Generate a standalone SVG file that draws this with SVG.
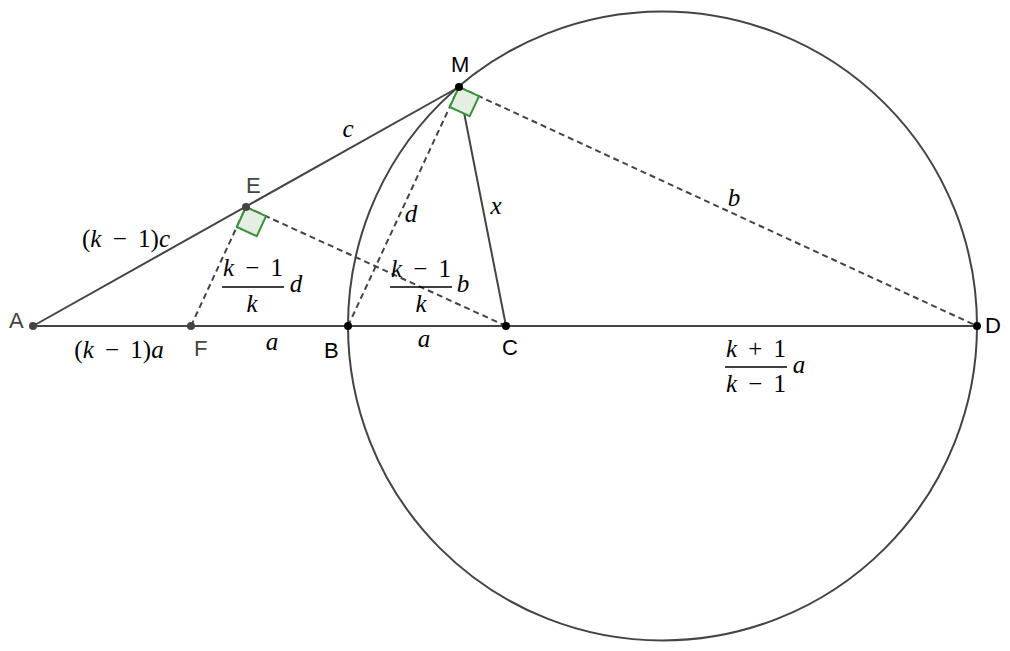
<svg xmlns="http://www.w3.org/2000/svg" width="1010" height="651" viewBox="0 0 1010 651">
<style>
.ln{stroke:#444;stroke-width:2;fill:none;stroke-linecap:round}
.ds{stroke:#444;stroke-width:2;fill:none;stroke-dasharray:6,4}
.ra{stroke:#3a913a;stroke-width:2;fill:#e4efe4;stroke-linejoin:miter}
.pt{fill:#000}
.pg{fill:#444}
.pl{font-family:"Liberation Sans",Arial,sans-serif;font-size:22px;fill:#000}
.plg{font-family:"Liberation Sans",Arial,sans-serif;font-size:22px;fill:#444}
.m{font-family:"Liberation Serif","Times New Roman","DejaVu Serif",serif;font-size:25px;fill:#000;word-spacing:5px}
.i{font-style:italic}
.fr{stroke:#000;stroke-width:1.3}
</style>
<rect width="1010" height="651" fill="#fff"/>
<g id="connectors">
<circle class="ln" cx="662.5" cy="326" r="314.5"/>
<line class="ln" x1="33" y1="326" x2="977" y2="326"/>
<line class="ln" x1="33" y1="326" x2="459" y2="87"/>
<line class="ln" x1="459" y1="87" x2="506" y2="326"/>
<line class="ds" x1="191" y1="326" x2="246" y2="207"/>
<line class="ds" x1="246" y1="207" x2="506" y2="326"/>
<line class="ds" x1="348" y1="326" x2="459" y2="87"/>
<line class="ds" x1="459" y1="87" x2="977" y2="326"/>
</g>
<g id="right-angle-E"><polygon class="ra" points="246,207 236.8,227 256.8,236.2 266,216.2"/></g>
<g id="right-angle-M"><polygon class="ra" points="459,87 449.7,107 469.7,116.2 479,96.2"/></g>
<g id="A"><circle class="pg" cx="33" cy="326" r="4"/><text class="plg" x="9" y="328">A</text></g>
<g id="F"><circle class="pg" cx="191" cy="326" r="4"/><text class="plg" x="194" y="356">F</text></g>
<g id="E"><circle class="pg" cx="246" cy="207" r="4"/><text class="plg" x="246" y="193">E</text></g>
<g id="B"><circle class="pt" cx="348" cy="326" r="4"/><text class="pl" x="324" y="358">B</text></g>
<g id="C"><circle class="pt" cx="506" cy="326" r="4"/><text class="pl" x="502" y="355">C</text></g>
<g id="D"><circle class="pt" cx="977" cy="326" r="4"/><text class="pl" x="985" y="333">D</text></g>
<g id="M"><circle class="pt" cx="459" cy="87" r="4"/><text class="pl" x="451" y="72">M</text></g>
<g id="labels">
<text class="m i" x="348" y="137" text-anchor="middle">c</text>
<text class="m" x="126" y="247" text-anchor="middle">(<tspan class="i">k</tspan> − 1)<tspan class="i">c</tspan></text>
<text class="m" x="119" y="358" text-anchor="middle">(<tspan class="i">k</tspan> − 1)<tspan class="i">a</tspan></text>
<text class="m i" x="272" y="350" text-anchor="middle">a</text>
<text class="m i" x="424" y="347" text-anchor="middle">a</text>
<text class="m i" x="411" y="222" text-anchor="middle">d</text>
<text class="m i" x="496" y="214" text-anchor="middle">x</text>
<text class="m i" x="734" y="206" text-anchor="middle">b</text>
<text class="m" x="253" y="276" text-anchor="middle"><tspan class="i">k</tspan> − 1</text>
<line class="fr" x1="222" y1="287" x2="284" y2="287"/>
<text class="m i" x="252" y="312" text-anchor="middle">k</text>
<text class="m i" x="296" y="292" text-anchor="middle">d</text>
<text class="m" x="421" y="277" text-anchor="middle"><tspan class="i">k</tspan> − 1</text>
<line class="fr" x1="390" y1="287" x2="452" y2="287"/>
<text class="m i" x="421" y="312" text-anchor="middle">k</text>
<text class="m i" x="463" y="292" text-anchor="middle">b</text>
<text class="m" x="756" y="357" text-anchor="middle"><tspan class="i">k</tspan> + 1</text>
<line class="fr" x1="725" y1="367" x2="787" y2="367"/>
<text class="m" x="756" y="392" text-anchor="middle"><tspan class="i">k</tspan> − 1</text>
<text class="m i" x="799" y="373" text-anchor="middle">a</text>
</g>
</svg>
